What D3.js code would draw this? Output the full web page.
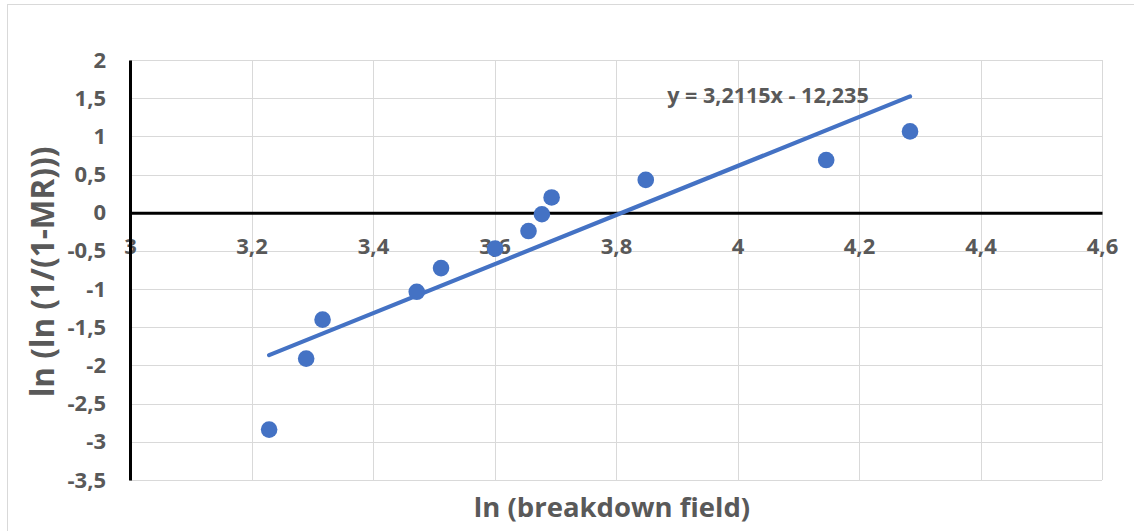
<!DOCTYPE html>
<html>
<head>
<meta charset="utf-8">
<script src="https://cdn.jsdelivr.net/npm/d3@7"></script>
<style>
  html, body { margin: 0; padding: 0; background: #fff; }
  svg { display: block; }
  text { font-family: "Open Sans", Lato, sans-serif; font-weight: bold; fill: #595959; }
</style>
</head>
<body>
<svg id="chart" width="1134" height="531"></svg>
<script>
// Weibull plot: ln(breakdown field) vs ln(ln(1/(1-MR)))
const lnField = [3.229, 3.290, 3.317, 3.472, 3.512, 3.601, 3.656, 3.678, 3.694, 3.849, 4.146, 4.284];
const lnLnMR  = [-2.84, -1.91, -1.40, -1.035, -0.725, -0.47, -0.24, -0.02, 0.20, 0.43, 0.69, 1.065];

// Linear trendline y = slope * x + intercept
const slope = 3.2115;
const intercept = -12.235;
const equationLabel = "y = 3,2115x - 12,235";

const xTicks = [3, 3.2, 3.4, 3.6, 3.8, 4, 4.2, 4.4, 4.6];
const yTicks = [2, 1.5, 1, 0.5, 0, -0.5, -1, -1.5, -2, -2.5, -3, -3.5];

const xTitle = "ln (breakdown field)";
const yTitle = "ln (ln (1/(1-MR)))";

const blue = "#4472C4";
const fmt = v => String(v).replace(".", ",");
const fontStack = "'Open Sans', Lato, sans-serif";

const svg = d3.select("#chart");
const plot = { left: 130, right: 1102, top: 60, bottom: 480 };

const x = d3.scaleLinear().domain([3, 4.6]).range([plot.left, plot.right]);
const y = d3.scaleLinear().domain([-3.5, 2]).range([plot.bottom, plot.top]);

// Outer chart frame
svg.append("rect")
  .attr("x", 7.5).attr("y", 4.5).attr("width", 1140).attr("height", 540)
  .attr("fill", "none").attr("stroke", "#d9d9d9").attr("stroke-width", 1);

// Gridlines
const grid = svg.append("g");
grid.selectAll("line.v").data(xTicks).join("line")
  .attr("x1", d => Math.round(x(d)) + 0.5).attr("x2", d => Math.round(x(d)) + 0.5)
  .attr("y1", plot.top).attr("y2", plot.bottom)
  .attr("stroke", "#d9d9d9").attr("stroke-width", 1);
grid.selectAll("line.h").data(yTicks).join("line")
  .attr("y1", d => Math.round(y(d)) + 0.5).attr("y2", d => Math.round(y(d)) + 0.5)
  .attr("x1", plot.left).attr("x2", plot.right)
  .attr("stroke", "#d9d9d9").attr("stroke-width", 1);

// Axes: vertical axis at x = 3, horizontal axis crossing at y = 0
const xAxis = d3.axisBottom(x).tickValues(xTicks).tickFormat(fmt).tickSize(0).tickPadding(26);
const yAxis = d3.axisLeft(y).tickValues(yTicks).tickFormat(fmt).tickSize(0).tickPadding(24);

const gx = svg.append("g").attr("transform", `translate(0,${y(0)})`).call(xAxis);
gx.select(".domain").attr("stroke", "#000").attr("stroke-width", 3);
gx.selectAll("text").style("font-size", "22px").attr("fill", "#595959")
  .style("font-family", fontStack).style("font-weight", "bold");

const gy = svg.append("g").attr("transform", `translate(${x(3)},0)`).call(yAxis);
gy.select(".domain").attr("stroke", "#000").attr("stroke-width", 3);
gy.selectAll("text").style("font-size", "22px").attr("fill", "#595959")
  .style("font-family", fontStack).style("font-weight", "bold");

// Trendline across the data range
const xExt = d3.extent(lnField);
svg.append("line")
  .attr("x1", x(xExt[0])).attr("y1", y(slope * xExt[0] + intercept))
  .attr("x2", x(xExt[1])).attr("y2", y(slope * xExt[1] + intercept))
  .attr("stroke", blue).attr("stroke-width", 4.2).attr("stroke-linecap", "round");

// Data points
svg.append("g").selectAll("circle").data(lnField).join("circle")
  .attr("cx", d => x(d))
  .attr("cy", (d, i) => y(lnLnMR[i]))
  .attr("r", 8.3)
  .attr("fill", blue);

// Trendline equation
svg.append("text")
  .attr("x", 768).attr("y", 103)
  .attr("text-anchor", "middle")
  .style("font-size", "21.5px")
  .text(equationLabel);

// Axis titles
svg.append("text")
  .attr("x", 612).attr("y", 517)
  .attr("text-anchor", "middle")
  .style("font-size", "27.5px")
  .text(xTitle);

svg.append("text")
  .attr("transform", `translate(54,272) rotate(-90)`)
  .attr("text-anchor", "middle")
  .style("font-size", "31.5px")
  .text(yTitle);
</script>
</body>
</html>
